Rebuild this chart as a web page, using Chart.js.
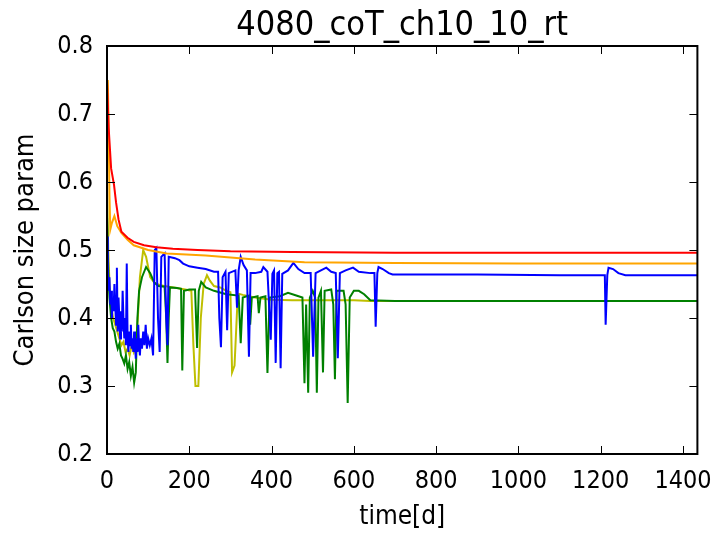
<!DOCTYPE html>
<html>
<head>
<meta charset="utf-8">
<script src="https://cdn.jsdelivr.net/npm/chart.js@4/dist/chart.umd.min.js"></script>
<style>
  html, body { margin: 0; padding: 0; background: #fff; }
  #wrap { width: 716px; height: 533px; }
</style>
</head>
<body>
<div id="wrap"><canvas id="chart" width="716" height="533"></canvas></div>
<script>
// x ticks / y ticks
const xTicks = [0, 200, 400, 600, 800, 1000, 1200, 1400];
const yTicks = [0.2, 0.3, 0.4, 0.5, 0.6, 0.7, 0.8];
const titleText = '4080_coT_ch10_10_rt';

// red series
const redT = [0, 4, 10, 17, 22, 28, 35, 50, 65, 90, 120, 160, 220, 300, 450, 700, 1000, 1440];
const redV = [0.75, 0.68, 0.62, 0.596, 0.57, 0.545, 0.527, 0.518, 0.512, 0.507, 0.504, 0.502, 0.50, 0.498, 0.497, 0.496, 0.496, 0.496];

// orange series
const orangeT = [0, 2, 4, 6, 8, 12, 18, 25, 35, 50, 65, 85, 100, 145, 240, 360, 480, 700, 1000, 1440];
const orangeV = [0.73, 0.75, 0.68, 0.58, 0.53, 0.54, 0.55, 0.535, 0.525, 0.515, 0.507, 0.503, 0.50, 0.495, 0.492, 0.486, 0.482, 0.481, 0.48, 0.48];

// yellow series
const yellowT = [0, 3, 6, 10, 15, 20, 25, 30, 35, 40, 45, 50, 55, 60, 65, 70, 75, 80, 88, 95, 105, 115, 130, 150, 170, 190, 205, 210, 215, 222, 228, 235, 243, 250, 260, 275, 290, 300, 304, 310, 318, 330, 360, 400, 450, 500, 550, 600, 640, 700, 1000, 1440];
const yellowV = [0.6, 0.5, 0.45, 0.415, 0.40, 0.39, 0.38, 0.37, 0.36, 0.365, 0.35, 0.355, 0.345, 0.36, 0.35, 0.36, 0.40, 0.46, 0.50, 0.49, 0.46, 0.452, 0.448, 0.446, 0.444, 0.442, 0.44, 0.36, 0.30, 0.30, 0.40, 0.45, 0.463, 0.455, 0.447, 0.445, 0.44, 0.438, 0.32, 0.33, 0.436, 0.434, 0.43, 0.427, 0.426, 0.426, 0.426, 0.426, 0.425, 0.425, 0.425, 0.425];

// green series
const greenT = [0, 3, 6, 10, 14, 18, 22, 26, 30, 34, 38, 42, 46, 50, 54, 58, 62, 66, 70, 74, 78, 85, 95, 105, 115, 125, 140, 144, 147, 150, 153, 170, 180, 183, 187, 200, 214, 219, 223, 229, 240, 260, 290, 320, 325, 330, 345, 348, 352, 366, 369, 373, 385, 390, 395, 420, 440, 460, 475, 480, 484, 489, 493, 500, 506, 510, 514, 520, 525, 529, 545, 550, 554, 558, 575, 580, 585, 590, 600, 612, 625, 640, 700, 1000, 1440];
const greenV = [0.55, 0.47, 0.43, 0.40, 0.385, 0.38, 0.365, 0.355, 0.362, 0.345, 0.34, 0.333, 0.345, 0.325, 0.335, 0.315, 0.328, 0.305, 0.32, 0.40, 0.44, 0.46, 0.475, 0.466, 0.452, 0.447, 0.446, 0.40, 0.334, 0.40, 0.445, 0.444, 0.443, 0.323, 0.44, 0.442, 0.442, 0.356, 0.44, 0.453, 0.445, 0.44, 0.435, 0.433, 0.363, 0.43, 0.433, 0.39, 0.43, 0.432, 0.407, 0.43, 0.432, 0.319, 0.43, 0.432, 0.437, 0.433, 0.43, 0.304, 0.42, 0.29, 0.43, 0.44, 0.43, 0.29, 0.43, 0.44, 0.32, 0.44, 0.442, 0.42, 0.31, 0.44, 0.44, 0.42, 0.275, 0.43, 0.44, 0.44, 0.435, 0.426, 0.425, 0.425, 0.425];

// blue series
const blueT = [0, 2, 4, 6, 8, 10, 12, 14, 16, 18, 20, 22, 24, 26, 28, 30, 32, 34, 36, 38, 40, 42, 44, 46, 48, 50, 52, 54, 56, 58, 60, 62, 64, 66, 68, 70, 72, 74, 76, 78, 80, 82, 85, 88, 91, 94, 97, 100, 104, 108, 112, 116, 120, 124, 128, 132, 140, 144, 147, 150, 165, 176, 185, 200, 220, 240, 260, 270, 273, 277, 281, 288, 292, 296, 312, 316, 320, 325, 332, 340, 345, 349, 360, 375, 380, 390, 398, 402, 406, 410, 414, 418, 422, 426, 440, 453, 465, 480, 495, 501, 507, 520, 533, 545, 556, 561, 566, 580, 598, 612, 640, 650, 653, 657, 660, 670, 685, 694, 900, 1100, 1210, 1212, 1216, 1219, 1230, 1243, 1260, 1440];
const blueV = [0.52, 0.47, 0.44, 0.46, 0.42, 0.44, 0.40, 0.43, 0.41, 0.45, 0.42, 0.39, 0.474, 0.38, 0.43, 0.40, 0.37, 0.41, 0.38, 0.44, 0.40, 0.37, 0.40, 0.36, 0.48, 0.375, 0.35, 0.38, 0.36, 0.39, 0.355, 0.37, 0.35, 0.38, 0.36, 0.34, 0.37, 0.35, 0.39, 0.36, 0.345, 0.37, 0.355, 0.38, 0.36, 0.39, 0.355, 0.37, 0.36, 0.37, 0.345, 0.50, 0.503, 0.40, 0.35, 0.49, 0.495, 0.40, 0.36, 0.49, 0.488, 0.485, 0.48, 0.476, 0.474, 0.472, 0.468, 0.468, 0.40, 0.357, 0.46, 0.468, 0.382, 0.466, 0.47, 0.415, 0.47, 0.49, 0.478, 0.47, 0.343, 0.466, 0.466, 0.468, 0.475, 0.468, 0.368, 0.465, 0.47, 0.334, 0.466, 0.468, 0.326, 0.465, 0.47, 0.481, 0.472, 0.466, 0.466, 0.343, 0.466, 0.47, 0.474, 0.468, 0.466, 0.341, 0.466, 0.47, 0.474, 0.468, 0.466, 0.466, 0.387, 0.466, 0.475, 0.472, 0.466, 0.464, 0.464, 0.463, 0.463, 0.39, 0.463, 0.474, 0.472, 0.466, 0.463, 0.463];

const FONT = "'DejaVu Sans Condensed', 'DejaVu Sans', sans-serif";

function pts(ts, vs) {
    return ts.map((t, i) => ({ x: t, y: vs[i] }));
}

function series(label, ts, vs, color) {
    return {
        label: label,
        data: pts(ts, vs),
        borderColor: color,
        backgroundColor: color,
        borderWidth: 2,
        pointRadius: 0,
        tension: 0
    };
}

// inward ticks on all four sides, black frame, title centred over the plot area
const frameTicks = {
    id: 'frameTicks',
    afterDatasetsDraw(chart) {
        const { ctx, chartArea: a, scales: { x, y } } = chart;
        const len = 8;
        ctx.save();
        ctx.strokeStyle = '#000';
        ctx.lineWidth = 1;
        ctx.beginPath();
        xTicks.forEach(v => {
            const px = Math.round(x.getPixelForValue(v)) + 0.5;
            ctx.moveTo(px, a.bottom); ctx.lineTo(px, a.bottom - len);
            ctx.moveTo(px, a.top); ctx.lineTo(px, a.top + len);
        });
        yTicks.forEach(v => {
            const py = Math.round(y.getPixelForValue(v)) + 0.5;
            ctx.moveTo(a.left, py); ctx.lineTo(a.left + len, py);
            ctx.moveTo(a.right, py); ctx.lineTo(a.right - len, py);
        });
        ctx.stroke();
        ctx.lineWidth = 2;
        ctx.strokeRect(a.left, a.top, a.right - a.left, a.bottom - a.top);

        ctx.fillStyle = '#000';
        ctx.font = '34px ' + FONT;
        ctx.textAlign = 'center';
        ctx.textBaseline = 'alphabetic';
        ctx.fillText(titleText, (a.left + a.right) / 2, a.top - 11);
        ctx.restore();
    }
};

Chart.defaults.color = '#000';
Chart.defaults.font.family = FONT;

new Chart(document.getElementById('chart').getContext('2d'), {
    type: 'line',
    data: {
        datasets: [
            series('red', redT, redV, '#ff0000'),
            series('orange', orangeT, orangeV, '#ffa500'),
            series('blue', blueT, blueV, '#0000ff'),
            series('green', greenT, greenV, '#008000'),
            series('yellow', yellowT, yellowV, '#bfbf00')
        ]
    },
    options: {
        responsive: false,
        animation: false,
        layout: { padding: { left: 0, right: 16, top: 46, bottom: 0 } },
        plugins: {
            legend: { display: false },
            tooltip: { enabled: false },
            title: { display: false }
        },
        scales: {
            x: {
                type: 'linear',
                min: 0,
                max: 1435,
                grid: { display: false },
                border: { display: false },
                afterBuildTicks: s => { s.ticks = xTicks.map(v => ({ value: v })); },
                afterFit: s => { s.height = 79; },
                ticks: { font: { size: 25 }, padding: 4, maxRotation: 0, callback: v => String(v) },
                title: { display: true, text: 'time[d]', font: { size: 26 }, padding: { top: 2, bottom: 0 } }
            },
            y: {
                min: 0.2,
                max: 0.8,
                grid: { display: false },
                border: { display: false },
                afterBuildTicks: s => { s.ticks = yTicks.map(v => ({ value: v })); },
                afterFit: s => { s.width = 107; },
                ticks: { font: { size: 25 }, padding: 6, callback: v => v.toFixed(1) },
                title: { display: true, text: 'Carlson size param', font: { size: 27 }, padding: { top: 10, bottom: 0 } }
            }
        }
    },
    plugins: [frameTicks]
});
</script>
</body>
</html>
